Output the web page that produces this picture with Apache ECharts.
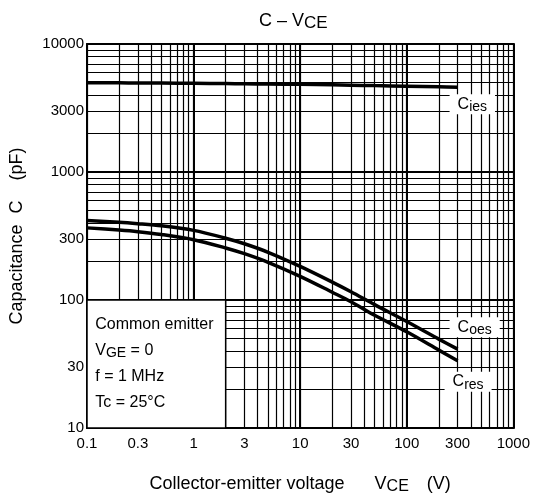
<!DOCTYPE html>
<html><head><meta charset="utf-8">
<script src="https://cdn.jsdelivr.net/npm/echarts@6/dist/echarts.min.js"></script>
<style>html,body{margin:0;padding:0;background:#fff}#c{width:533px;height:501px}</style>
</head><body><div id="c"></div>
<script>
// ---- data ----
const vce  = [0.1, 0.2, 0.3, 0.5, 1, 2, 3, 5, 10, 20, 30, 50, 100, 200, 300];
const cies = [4980, 4970, 4960, 4950, 4930, 4910, 4890, 4870, 4840, 4800, 4770, 4730, 4680, 4630, 4600];
const coes = [417, 405, 395, 380, 350, 304, 275, 236, 183, 138, 116, 92, 68, 49.5, 41.3];
const cres = [366, 352, 342, 325, 296, 255, 230, 197, 153, 115, 97, 76, 56.4, 40.6, 33.5];
const xTickValues = [0.1, 0.3, 1, 3, 10, 30, 100, 300, 1000];
const xTickLabels = ['0.1', '0.3', '1', '3', '10', '30', '100', '300', '1000'];
const yTickValues = [10, 30, 100, 300, 1000, 3000, 10000];
const yTickLabels = ['10', '30', '100', '300', '1000', '3000', '10000'];
const xDecades = [0.1, 1, 10, 100, 1000];
const yDecades = [10, 100, 1000, 10000];

// log grid lines at 1..9 of every decade
function logGrid(decades) {
  const out = [];
  for (let i = 0; i < decades.length - 1; i++) {
    for (let m = 1; m <= 9; m++) out.push(+(decades[i] * m).toPrecision(6));
  }
  out.push(decades[decades.length - 1]);
  return out;
}
const FONT = 'Liberation Sans, Arial, sans-serif';
function labelFor(values, labels) {
  return v => {
    const i = values.findIndex(t => Math.abs(t - v) / t < 1e-6);
    return i >= 0 ? labels[i] : '';
  };
}
function pairs(ys) { return vce.map((x, i) => [x, ys[i]]); }

const curveLabelRich = {
  c: { fontSize: 16, fontFamily: FONT, color: '#000', lineHeight: 16 },
  s: { fontSize: 14, fontFamily: FONT, color: '#000', lineHeight: 16, padding: [6, 0, 0, 0] }
};
function endLabel(sub, offset) {
  return {
    show: true, distance: 0, offset: offset,
    formatter: '{c|C}{s|' + sub + '}',
    backgroundColor: '#fff', padding: [2, 8, 2, 8],
    rich: curveLabelRich
  };
}

const chart = echarts.init(document.getElementById('c'), null, { renderer: 'canvas' });
chart.setOption({
  animation: false,
  backgroundColor: '#fff',
  title: {
    text: '{a|C – V}{s|CE}',
    left: 254, top: 5,
    textStyle: {
      fontWeight: 'normal',
      rich: {
        a: { fontSize: 18, fontFamily: FONT, color: '#000', fontWeight: 'normal' },
        s: { fontSize: 17, fontFamily: FONT, color: '#000', fontWeight: 'normal', padding: [5, 0, 0, 0] }
      }
    }
  },
  grid: { left: 87, right: 19, top: 44, bottom: 73 },
  xAxis: [{
    type: 'log', logBase: 10, min: 0.1, max: 1000, position: 'bottom',
    axisLine: { show: true, onZero: false, lineStyle: { color: '#000', width: 2 } },
    axisTick: { show: false, customValues: logGrid(xDecades) },
    axisLabel: { customValues: xTickValues, formatter: labelFor(xTickValues, xTickLabels),
      color: '#000', fontSize: 15, fontFamily: FONT, margin: 8 },
    splitLine: { show: true, lineStyle: { color: '#000', width: 1.2 } },
    name: '{a|Collector-emitter voltage}{v|V}{s|CE}{u|(V)}',
    nameLocation: 'middle', nameGap: 45,
    nameTextStyle: { rich: {
      a: { fontSize: 18, fontFamily: FONT, color: '#000' },
      v: { fontSize: 18, fontFamily: FONT, color: '#000', padding: [0, 0, 0, 30] },
      s: { fontSize: 16, fontFamily: FONT, color: '#000', padding: [6, 0, 0, 0] },
      u: { fontSize: 18, fontFamily: FONT, color: '#000', padding: [0, 0, 0, 18] }
    } }
  }, {
    type: 'log', logBase: 10, min: 0.1, max: 1000, position: 'top',
    axisLine: { show: true, onZero: false, lineStyle: { color: '#000', width: 2 } },
    axisTick: { show: false, customValues: xDecades },
    axisLabel: { show: false },
    splitLine: { show: true, lineStyle: { color: '#000', width: 2 } }
  }],
  yAxis: [{
    type: 'log', logBase: 10, min: 10, max: 10000, position: 'left',
    axisLine: { show: true, onZero: false, lineStyle: { color: '#000', width: 2 } },
    axisTick: { show: false, customValues: logGrid(yDecades) },
    axisLabel: { customValues: yTickValues, formatter: labelFor(yTickValues, yTickLabels),
      color: '#000', fontSize: 15, fontFamily: FONT, margin: 3 },
    splitLine: { show: true, lineStyle: { color: '#000', width: 1.2 } },
    name: '{a|Capacitance}{b|C}{c|(pF)}',
    nameLocation: 'middle', nameGap: 61,
    nameTextStyle: { rich: {
      a: { fontSize: 18, fontFamily: FONT, color: '#000' },
      b: { fontSize: 18, fontFamily: FONT, color: '#000', padding: [0, 0, 0, 11] },
      c: { fontSize: 18, fontFamily: FONT, color: '#000', padding: [0, 0, 0, 20] }
    } }
  }, {
    type: 'log', logBase: 10, min: 10, max: 10000, position: 'right',
    axisLine: { show: true, onZero: false, lineStyle: { color: '#000', width: 2 } },
    axisTick: { show: false, customValues: yDecades },
    axisLabel: { show: false },
    splitLine: { show: true, lineStyle: { color: '#000', width: 2 } }
  }],
  series: [{
    name: 'Cies', type: 'line', data: pairs(cies), showSymbol: false, smooth: 0.3,
    lineStyle: { color: '#000', width: 3.5 }, z: 3,
    endLabel: endLabel('ies', [-8, 17])
  }, {
    name: 'Coes', type: 'line', data: pairs(coes), showSymbol: false, smooth: 0.3,
    lineStyle: { color: '#000', width: 3.5 }, z: 3,
    endLabel: endLabel('oes', [-8, -22])
  }, {
    name: 'Cres', type: 'line', data: pairs(cres), showSymbol: false, smooth: 0.3,
    lineStyle: { color: '#000', width: 3.5 }, z: 3,
    endLabel: endLabel('res', [-13, 21]),
    markArea: {
      silent: true,
      itemStyle: { color: '#fff', borderColor: '#000', borderWidth: 1.5, opacity: 1 },
      label: {
        show: true, position: 'insideTopLeft', distance: 0, padding: [12, 0, 0, 9],
        formatter: '{t|Common emitter}\n{t|V}{s|GE}{t| = 0}\n{t|f = 1 MHz}\n{t|Tc = 25°C}',
        rich: {
          t: { fontSize: 16, fontFamily: FONT, color: '#000', lineHeight: 26 },
          s: { fontSize: 14, fontFamily: FONT, color: '#000', lineHeight: 26, padding: [6, 0, 0, 0] }
        }
      },
      data: [[{ coord: [0.1, 10] }, { coord: [2, 100] }]]
    }
  }]
});
</script></body></html>
